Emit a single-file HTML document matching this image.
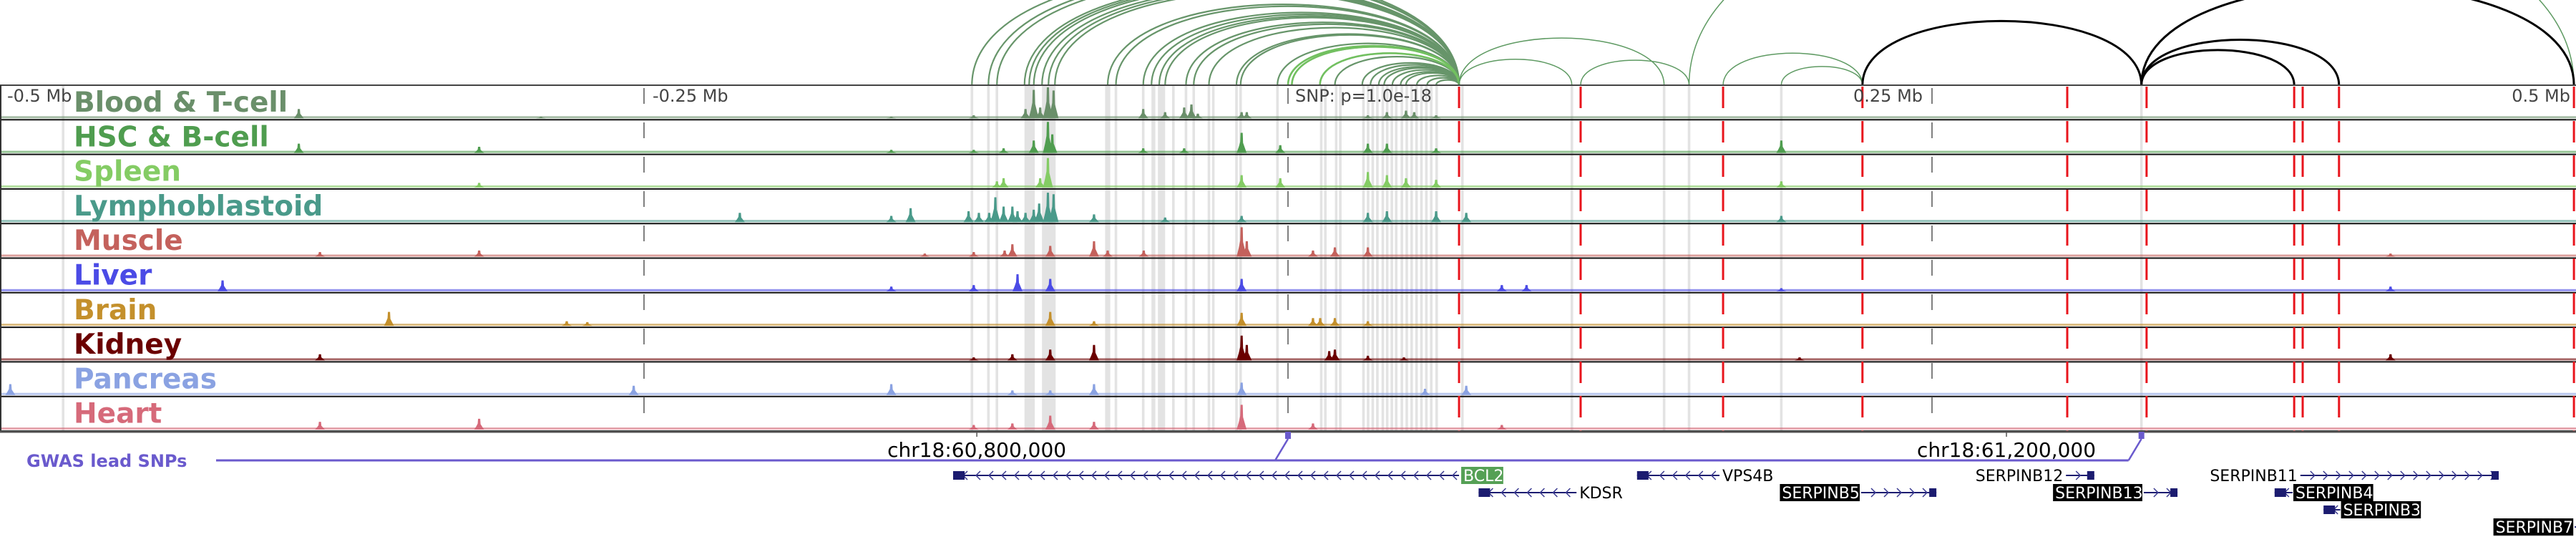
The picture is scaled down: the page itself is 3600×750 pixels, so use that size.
<!DOCTYPE html>
<html><head><meta charset="utf-8"><style>
html,body{margin:0;padding:0;background:#fff;}
svg{display:block;font-family:"DejaVu Sans","Liberation Sans",sans-serif;}
</style></head><body>
<svg id="fig" width="3600" height="750" viewBox="0 0 3600 750" xmlns="http://www.w3.org/2000/svg">
<g id="bands"></g>
<g id="arcs"></g>
<g id="tracks"></g>
<g id="guides"></g>
<g id="axis"></g>
<g id="genes"></g>
</svg>
<script>
// ---- data (positions in kb relative to lead SNP) ----
const trackNames = ["Blood & T-cell","HSC & B-cell","Spleen","Lymphoblastoid","Muscle","Liver","Brain","Kidney","Pancreas","Heart"];
const trackColors = ["#6a8f6a","#4f9d4f","#84cc64","#4a9a8a","#c4615c","#4b4be6","#c4902c","#6b0000","#8aa2e2","#d66a7a"];
const peaksBlood = [[-98.7,0.92],[-101.9,0.3],[-96.2,0.35],[-93.2,1.0],[-91,0.9],[-56.2,0.3],[-47.7,0.2],[-40.3,0.35],[-37.5,0.45],[-35,0.15],[-18,0.2],[-16,0.2],[31,0.1],[38.4,0.2],[45.8,0.25],[49,0.2],[57.5,0.1],[-122,0.1],[-154,0.05],[-384,0.3],[-290,0.05]];
const peaksHSC = [[-93.2,1.0],[-91.5,0.6],[-98.7,0.4],[-110.4,0.15],[-122,0.1],[-154,0.1],[-18,0.65],[-3,0.25],[31,0.3],[38.4,0.3],[57.5,0.15],[-40.3,0.15],[-56.2,0.15],[-384,0.3],[-314,0.2],[191.5,0.4]];
const peaksSpleen = [[-93.2,0.95],[-96.2,0.3],[-110.4,0.3],[-113,0.2],[-18,0.4],[-3,0.3],[31,0.5],[38.4,0.4],[45.8,0.3],[57.5,0.25],[191.5,0.2],[-314,0.15]];
const peaksLympho = [[-93.2,0.95],[-91,0.9],[-96.6,0.6],[-98.7,0.4],[-101.9,0.3],[-105,0.35],[-107,0.5],[-110.4,0.5],[-113.6,0.8],[-124,0.35],[-120,0.3],[-116,0.3],[-146.5,0.45],[-154,0.2],[-75.3,0.25],[-47.7,0.15],[-18,0.2],[31,0.3],[38.4,0.35],[57.5,0.35],[69.2,0.3],[-212.8,0.3],[191.5,0.2]];
const peaksMuscle = [[-18,0.95],[-16,0.5],[-107,0.4],[-110,0.2],[-92.3,0.35],[-75.3,0.5],[-70,0.2],[-56,0.2],[9.7,0.2],[18.2,0.3],[31,0.3],[-122,0.15],[-141,0.1],[-375.8,0.15],[-314,0.2],[428,0.1]];
const peaksLiver = [[-105,0.55],[-92.3,0.4],[-122,0.2],[-18,0.4],[-154,0.15],[-413.6,0.35],[83,0.2],[92.6,0.2],[428,0.15],[191.5,0.1]];
const peaksBrain = [[-92.3,0.45],[-18,0.42],[9.7,0.25],[12.5,0.25],[18.2,0.25],[31,0.15],[-75.3,0.15],[-349,0.45],[-280,0.15],[-272,0.12]];
const peaksKidney = [[-18,0.8],[-16,0.5],[-75.3,0.5],[-92.3,0.35],[-107,0.2],[18.2,0.35],[16,0.3],[31,0.15],[45,0.1],[-122,0.1],[-375.8,0.2],[428,0.2],[198.6,0.1]];
const peaksPancreas = [[-154,0.35],[-75.3,0.35],[-18,0.4],[-92.3,0.15],[-107,0.15],[53.2,0.2],[69.2,0.3],[-496,0.35],[-254,0.3]];
const peaksHeart = [[-18,0.8],[-92.3,0.45],[-75.3,0.25],[-107,0.2],[9.7,0.2],[-122,0.15],[-375.8,0.25],[-314,0.35],[83,0.15]];
const trackPeaks = [peaksBlood,peaksHSC,peaksSpleen,peaksLympho,peaksMuscle,peaksLiver,peaksBrain,peaksKidney,peaksPancreas,peaksHeart];
const bandRanges = [[-476,-475],[-123.2,-122.2],[-116.8,-115.8],[-113.5,-112.5],[-102.3,-98.3],[-95.5,-90.2],[-71,-69],[-67.3,-66.3],[-56.7,-55.7],[-53,-51.5],[-50.5,-47.7],[-45,-44],[-40.1,-39.1],[-37.1,-36.1],[-31.2,-30.2],[-29.5,-28.5],[-20.5,-19.5],[-18.9,-17.9],[-4.6,-3.6],[12.4,13.4],[14,15],[18.2,19.2],[19.8,20.8],[28.8,29.8],[30.6,31.6],[32.4,33.4],[34.2,35.2],[36.3,37.3],[38,39],[39.8,40.8],[41.5,42.5],[43.7,44.7],[45.6,46.6],[47.5,48.5],[49.4,50.4],[51.3,52.3],[53.2,54.2],[55.1,56.1],[57.2,58.2],[67.2,68.2],[109.7,110.7],[145.5,146.5],[155.2,156.2],[191,192],[330.8,331.8]];
const redLines = [66.4,113.6,168.9,223,302.5,333.3,390.6,393.9,408,499.2];
const loopAnchor = 66.4;
const loopPartners = [-122.7,-116.3,-113,-102.3,-100.5,-98.7,-95.5,-93,-90.5,-70,-66.8,-56.2,-53,-50,-47.7,-39.6,-36.6,-30.7,-20,-18.4,-4.1,0,1.5,12.4,18.2,28.8,32,35.2,37.3,40.5,43.7,45.8,50,54,57.5];
const brightPartners = [0,1.5,12.4];
const otherGreenLoops = [[66.4,110.2],[66.4,146],[113.6,155.7],[155.7,499.2],[168.9,223],[191.5,223]];
const blackLoops = [[223,331.3],[331.3,390.6],[331.3,408],[331.3,499.2]];
const axisTicks = [[-500,"-0.5 Mb"],[-250,"-0.25 Mb"],[250,"0.25 Mb"],[500,"0.5 Mb"]];
const coordLabels = [[-120.8,"chr18:60,800,000"],[278.9,"chr18:61,200,000"]];
const gwasSNPs = [0,331.3];
// genes: [name, start, end, strand, row, labelStyle]
const genes = [["BCL2",-130,66.4,-1,0,"green"],["KDSR",74,112,-1,1,"plain-right"],["VPS4B",135.5,167.5,-1,0,"plain-right"],["SERPINB5",222.5,251.7,1,1,"box-left"],["SERPINB12",302,313,1,0,"plain-left"],["SERPINB13",332.2,345.3,1,1,"box-left"],["SERPINB11",393,470,1,0,"plain-left"],["SERPINB4",383,390,-1,1,"box-right"],["SERPINB3",402,408.5,-1,2,"box-right"],["SERPINB7",499.5,510,1,3,"box-left"]];

// ---- scales ----
const NS="http://www.w3.org/2000/svg";
const X = kb => 1800 + kb*3.6;
const TOP = 119, TH = 48.3, NT = 10, BOTTOM = TOP + TH*NT;
function mk(tag, attrs, parent){const e=document.createElementNS(NS,tag);for(const k in attrs)e.setAttribute(k,attrs[k]);parent.appendChild(e);return e;}

// bands
const gB=document.getElementById('bands');
bandRanges.forEach(r=>{
  const e=mk('rect',{x:X(r[0]),y:TOP,width:Math.max(3,X(r[1])-X(r[0])),height:BOTTOM-TOP,fill:"#e3e3e3"},gB);
  
  
});

// arcs
const gA=document.getElementById('arcs');
function arc(a,b,color,w,name){
  const x1=X(a),x2=X(b),h=0.23*Math.abs(x2-x1),k=h*1.333;
  const e=mk('path',{d:`M${x1},${TOP} C${x1},${TOP-k} ${x2},${TOP-k} ${x2},${TOP}`,fill:"none",stroke:color,"stroke-width":w},gA);
  
  
}
loopPartners.forEach(p=>arc(p,loopAnchor,"#67956a",2.2,'bcl2-loop'));
brightPartners.forEach(p=>arc(p,loopAnchor,"#72c060",2.6,'bcl2-loop-bright'));
otherGreenLoops.forEach(l=>arc(l[0],l[1],"#5e9a62",1.5,'green-loop'));
blackLoops.forEach(l=>arc(l[0],l[1],"#000",3,'black-loop'));

// tracks
const gT=document.getElementById('tracks');
trackNames.forEach((nm,i)=>{
  const top=TOP+i*TH, base=top+TH-2, col=trackColors[i];
  const g=mk('g',{},gT);
  
  
  const bl=mk('rect',{x:0,y:base-3,width:3600,height:3,fill:col,opacity:0.6},g);
  
  
  trackPeaks[i].forEach(p=>{
    const x=X(p[0]), h=p[1]*(TH-5);
    const e=mk('path',{d:`M${x-7},${base} L${x-4},${base-h*0.3} L${x-2},${base-h*0.55} L${x-1.5},${base-h} L${x+1.5},${base-h} L${x+2},${base-h*0.5} L${x+4},${base-h*0.3} L${x+7},${base} Z`,fill:col},g);
    
    
  });
  const sep=mk('line',{x1:0,x2:3600,y1:top+TH,y2:top+TH,stroke:"#111","stroke-width":2},g);
  
  
  const t=mk('text',{x:103,y:top+37,fill:col,"font-size":39,"font-weight":"bold"},g);
  t.textContent=nm;
  
  
});

// guides
const gG=document.getElementById('guides');
mk('line',{x1:0,x2:3600,y1:TOP,y2:TOP,stroke:"#444","stroke-width":2},gG);
[-250,0,250].forEach(kb=>{
  const e=mk('line',{x1:X(kb),x2:X(kb),y1:TOP+4,y2:BOTTOM,stroke:"#555","stroke-width":1.5,"stroke-dasharray":"22,26"},gG);
  
  
});
redLines.forEach(kb=>{
  const e=mk('line',{x1:X(kb),x2:X(kb),y1:TOP+2,y2:BOTTOM,stroke:"#e8141c","stroke-width":3,"stroke-dasharray":"30,18"},gG);
  
  
});
mk('line',{x1:1,x2:1,y1:TOP,y2:BOTTOM,stroke:"#333","stroke-width":2},gG);
axisTicks.forEach(t=>{
  let x = t[0]===-500 ? X(t[0])+10 : t[0]===-250 ? X(t[0])+12 : t[0]===250 ? X(t[0])-110 : X(t[0])-8;
  const e=mk('text',{x:x,y:142,fill:"#444","font-size":24},gG);
  if(t[0]===500) e.setAttribute('text-anchor','end');
  e.textContent=t[1];
  
  
});
const snpT=mk('text',{x:1810,y:142,fill:"#444","font-size":24},gG);
snpT.textContent="SNP: p=1.0e-18";



// axis + gwas
const gX=document.getElementById('axis');
mk('line',{x1:0,x2:3600,y1:BOTTOM+1,y2:BOTTOM+1,stroke:"#555","stroke-width":3},gX);
coordLabels.forEach(c=>{
  mk('line',{x1:X(c[0]),x2:X(c[0]),y1:BOTTOM,y2:BOTTOM+8,stroke:"#555","stroke-width":1.5},gX);
  const e=mk('text',{x:X(c[0]),y:638,fill:"#000","font-size":28,"text-anchor":"middle"},gX);
  e.textContent=c[1];
  
  
});
const gw=mk('text',{x:37,y:652,fill:"#6a5acd","font-size":24,"font-weight":"bold"},gX);
gw.textContent="GWAS lead SNPs";


const gx1=X(gwasSNPs[gwasSNPs.length-1])-18;
mk('line',{x1:302,x2:gx1,y1:643,y2:643,stroke:"#6a5acd","stroke-width":3},gX);
gwasSNPs.forEach(s=>{
  const x=X(s);
  const l=mk('polyline',{points:`${x-18},643 ${x},613`,fill:"none",stroke:"#6a5acd","stroke-width":2.5},gX);
  
  
  const r=mk('rect',{x:x-4,y:603,width:8,height:10,fill:"#6a5acd"},gX);
  
  
});

// genes
const gN=document.getElementById('genes');
const rowY=[664,688,712,736];
genes.forEach(g=>{
  const [nm,s,e,str,row,style]=g;
  const y=rowY[row], x1=X(s), x2=X(e);
  const grp=mk('g',{},gN);
  
  
  mk('line',{x1:x1,x2:x2,y1:y,y2:y,stroke:"#1c1c70","stroke-width":2},grp);
  for(let x=x1+14;x<x2-8;x+=18){
    const d=str<0?`M${x+6},${y-6} L${x},${y} L${x+6},${y+6}`:`M${x},${y-6} L${x+6},${y} L${x},${y+6}`;
    mk('path',{d:d,fill:"none",stroke:"#3a3a90","stroke-width":1.5},grp);
  }
  const ex=str<0?x1:x2-10;
  mk('rect',{x:ex,y:y-6,width:str<0?16:10,height:12,fill:"#1c1c70"},grp);
  const tw=nm.length*13.2+6;
  let lx, anchor="start", fill="#000", box=null;
  if(style==="green"){box=[x2+3,"#55a055"];fill="#fff";lx=x2+6;}
  else if(style==="plain-right"){lx=x2+4;}
  else if(style==="plain-left"){lx=x1-4;anchor="end";}
  else if(style==="box-left"){box=[x1-tw-2,"#000"];fill="#fff";lx=x1-tw+1;}
  else if(style==="box-right"){box=[x2+1,"#000"];fill="#fff";lx=x2+4;}
  if(box){mk('rect',{x:box[0],y:y-12,width:tw,height:24,fill:box[1]},grp);}
  const t=mk('text',{x:lx,y:y+8,fill:fill,"font-size":22,"text-anchor":anchor},grp);
  t.textContent=nm;
  
  
});
</script>
</body></html>
